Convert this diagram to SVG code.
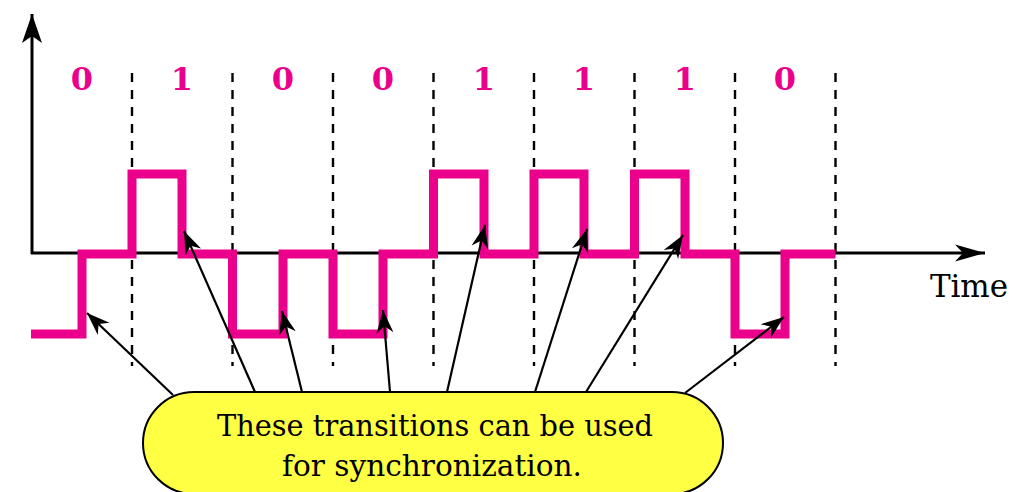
<svg xmlns="http://www.w3.org/2000/svg" width="1018" height="492" viewBox="0 0 1018 492">
<style>
.axis{stroke:#000;stroke-width:3;fill:none}
.dash{stroke:#000;stroke-width:2.4;stroke-dasharray:9 8;fill:none}
.sig{stroke:#EB008B;stroke-width:9;fill:none;stroke-linejoin:miter;stroke-linecap:butt}
.bit{font-family:"DejaVu Serif",serif;font-weight:bold;font-size:32px;fill:#EB008B;text-anchor:middle}
.lbl{font-family:"DejaVu Serif",serif;font-size:31px;fill:#000}
.cap{font-family:"DejaVu Serif",serif;font-size:30px;fill:#000;text-anchor:middle}
.arr{stroke:#000;stroke-width:2.2;fill:none;marker-end:url(#ah)}
</style>
<defs>
<marker id="ah" markerUnits="userSpaceOnUse" viewBox="-25 -9 27 18" refX="0" refY="0" markerWidth="27" markerHeight="18" orient="auto">
<path d="M0,0 L-23,-8.5 L-16,0 L-23,8.5 Z" fill="#000"/>
</marker>
<marker id="axh" markerUnits="userSpaceOnUse" viewBox="-31 -11 32 22" refX="0" refY="0" markerWidth="32" markerHeight="22" orient="auto">
<path d="M0,0 L-29,-10 L-22,0 L-29,10 Z" fill="#000"/>
</marker>
<marker id="axh2" markerUnits="userSpaceOnUse" viewBox="-31 -9 32 18" refX="0" refY="0" markerWidth="32" markerHeight="18" orient="auto">
<path d="M0,0 L-30,-8.5 L-22,0 L-30,8.5 Z" fill="#000"/>
</marker>
</defs>
<g id="axes">
<line class="axis" x1="32" y1="254" x2="32" y2="14" marker-end="url(#axh)"/>
<line class="axis" x1="31" y1="253" x2="985" y2="253" marker-end="url(#axh2)"/>
<text class="lbl" x="930" y="297" textLength="78">Time</text>
</g>
<g id="grid">
<line class="dash" x1="132" y1="73" x2="132" y2="366"/>
<line class="dash" x1="232.5" y1="73" x2="232.5" y2="366"/>
<line class="dash" x1="333" y1="73" x2="333" y2="366"/>
<line class="dash" x1="433.5" y1="73" x2="433.5" y2="366"/>
<line class="dash" x1="534" y1="73" x2="534" y2="366"/>
<line class="dash" x1="634.5" y1="73" x2="634.5" y2="366"/>
<line class="dash" x1="735" y1="73" x2="735" y2="366"/>
<line class="dash" x1="835.5" y1="73" x2="835.5" y2="366"/>
</g>
<g id="bits">
<text class="bit" x="82" y="90">0</text>
<text class="bit" x="182" y="90">1</text>
<text class="bit" x="283" y="90">0</text>
<text class="bit" x="383" y="90">0</text>
<text class="bit" x="484" y="90">1</text>
<text class="bit" x="584" y="90">1</text>
<text class="bit" x="685" y="90">1</text>
<text class="bit" x="785" y="90">0</text>
</g>
<g id="signal">
<path class="sig" d="M31,334 H82 V254 H132 V174 H182 V254 H232.5 V334 H283 V254 H333 V334 H383 V254 H433.5 V174 H484 V254 H534 V174 H584 V254 H634.5 V174 H685 V254 H735 V334 H785 V254 H835.5"/>
</g>
<g id="callout">
<rect x="143" y="392" width="580" height="102" rx="51" ry="51" fill="#FFFF44" stroke="#000" stroke-width="2"/>
<text class="cap" x="435" y="436" textLength="436" lengthAdjust="spacingAndGlyphs">These transitions can be used</text>
<text class="cap" x="432" y="476" textLength="300" lengthAdjust="spacingAndGlyphs">for synchronization.</text>
</g>
<g id="connectors">
<line class="arr" x1="173" y1="395" x2="87" y2="313"/>
<line class="arr" x1="255" y1="392" x2="184" y2="231"/>
<line class="arr" x1="302" y1="392" x2="282" y2="311"/>
<line class="arr" x1="390" y1="392" x2="383" y2="310"/>
<line class="arr" x1="447" y1="392" x2="485" y2="225"/>
<line class="arr" x1="535" y1="392" x2="587" y2="229"/>
<line class="arr" x1="586" y1="392" x2="683" y2="235"/>
<line class="arr" x1="685" y1="393" x2="784" y2="317"/>
</g>
</svg>
